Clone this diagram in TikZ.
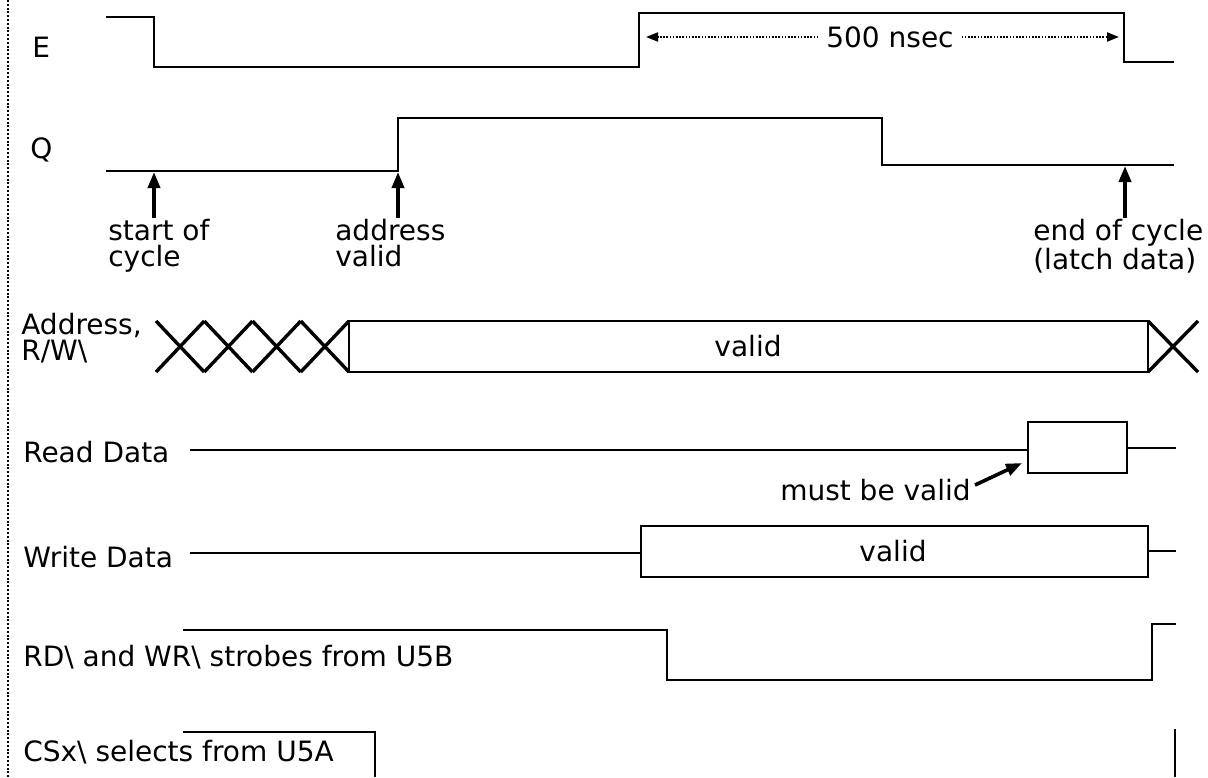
\documentclass[tikz,border=0pt]{standalone}
\usepackage{fontspec}
\setmainfont{DejaVu Sans}
\usetikzlibrary{arrows.meta, positioning}
\tikzset{
  every picture/.style={font=\fontsize{14}{13}\selectfont, line width=1.3pt},
  sig/.style={line width=1.3pt, line join=miter},
  bus/.style={line width=1.7pt},
  lbl/.style={inner sep=0pt, anchor=west},
  note/.style={inner sep=0pt, align=left, anchor=north west},
  uparrow/.style={-{Triangle[length=8pt, width=6pt]}, line width=1.8pt},
  span/.style={-{Triangle[length=6pt, width=4.5pt]}, line width=1pt, dash pattern=on 0.8pt off 0.8pt},
}

\begin{document}
\begin{tikzpicture}[x=0.5pt, y=-0.5pt]
  \useasboundingbox (0,0) rectangle (1208,777);
  % dotted page edge
  \draw[line width=1.3pt, dash pattern=on 1pt off 0.9pt] (8,0) -- (8,777);

  % E and Q clocks
  \node[lbl] (e) at (31,47) {E};
  \draw[sig] (106,17) -- (154,17) -- (154,67) -- (639,67) -- (639,13) -- (1124,13) -- (1124,62) -- (1174,62);
  \node[lbl] (q) at (29,150) {Q};
  \draw[sig] (106,171) -- (398,171) -- (398,118) -- (882,118) -- (882,165) -- (1174,165);

  % 500 nsec span
  \node (ns) at (890,37) {500 nsec};
  \coordinate (nsl) at (646,37);
  \coordinate (nsr) at (1119,37);
  \draw[span] (ns.west) -- (nsl);
  \draw[span] (ns.east) -- (nsr);

  % marks on Q
  \foreach \nm/\ax/\ay/\tx/\txt in {st/154/172/107/{start of\\cycle},
      av/398/172/334/{address\\valid},
      ec/1125/166/1032/{end of cycle\\(latch data)}} {
    \coordinate (\nm) at (\ax,\ay);
    \node[note] (l\nm) at (\tx,218) {\txt};
    \draw[uparrow] (l\nm.north -| \nm) -- (\nm);
  }

  % address bus
  \node[note] (ad) at (20,312) {Address,\\R/W\textbackslash};
  \foreach \i in {0,...,3}
    \draw[bus] ({156+48.25*\i},321) -- ({204.25+48.25*\i},372) ({156+48.25*\i},372) -- ({204.25+48.25*\i},321);
  \draw[sig, line width=1.1pt] (349,321) rectangle (1148,372);
  \node (adv) at (748,346) {valid};
  \draw[bus] (1148,321) -- (1198,372) (1148,372) -- (1198,321);

  % read data
  \node[lbl] (rd) at (22,452) {Read Data};
  \draw[sig] (190,450) -- (1028,450) (1127,448) -- (1176,448);
  \draw[sig, line width=1.1pt] (1028,422) rectangle (1127,473);
  \coordinate (rdbox) at (1022,463);
  \node[lbl, anchor=east] (mbv) at (972,490) {must be valid};
  \draw[uparrow] ([shift={(3,-5)}]mbv.east) -- (rdbox);

  % write data
  \node[lbl] (wd) at (22,557) {Write Data};
  \draw[sig] (190,553) -- (641,553) (1148,551) -- (1176,551);
  \draw[sig, line width=1.1pt] (641,526) rectangle (1148,577);
  \node (wdv) at (893,551) {valid};

  % strobes and selects
  \node[lbl] (str) at (22,657) {RD\textbackslash{} and WR\textbackslash{} strobes from U5B};
  \draw[sig, line width=1.45pt] (183,630) -- (667,630) -- (667,680) -- (1152,680) -- (1152,624) -- (1176,624);
  \node[lbl] (cs) at (22,752) {CSx\textbackslash{} selects from U5A};
  \draw[sig] (183,732) -- (375,732) -- (375,777);
  \draw[sig] (1175,729) -- (1175,777);
\end{tikzpicture}
\end{document}
